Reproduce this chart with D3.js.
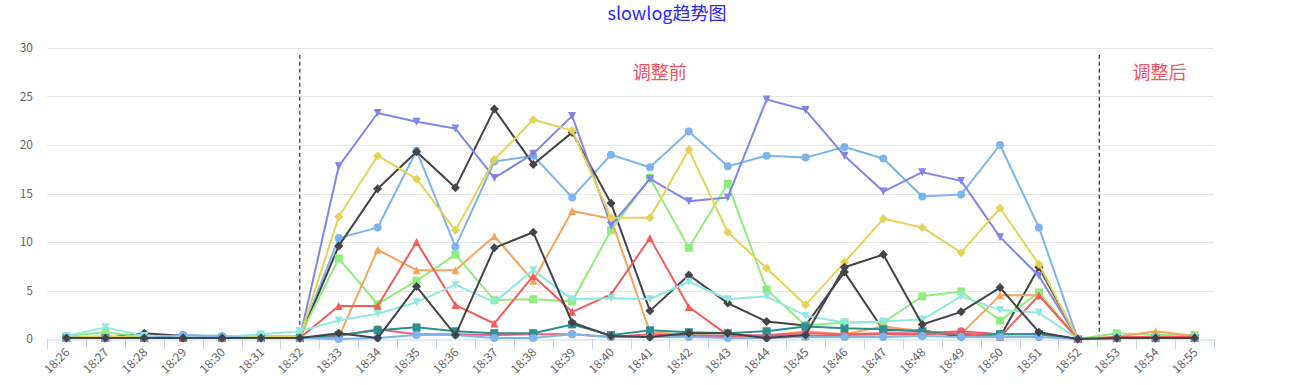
<!DOCTYPE html>
<html>
<head>
<meta charset="utf-8">
<script src="https://cdn.jsdelivr.net/npm/d3@7"></script>
<style>
  html, body { margin: 0; padding: 0; background: #fff; }
  svg { display: block; font-family: "Noto Sans CJK SC", "Noto Sans", sans-serif; }
</style>
</head>
<body>
<svg id="chart" width="1308" height="385"></svg>
<script>
// categories (minutes)
const categories = ["18:26","18:27","18:28","18:29","18:30","18:31","18:32","18:33","18:34","18:35",
  "18:36","18:37","18:38","18:39","18:40","18:41","18:42","18:43","18:44","18:45",
  "18:46","18:47","18:48","18:49","18:50","18:51","18:52","18:53","18:54","18:55"];

const yTicks = [0, 5, 10, 15, 20, 25, 30];

// series values, in drawing order
const s0 = [0.2,0.2,0.2,0.4,0.3,0.2,0.2, 10.4,11.5,19.4,9.5,18.3,18.9,14.6,19.0,17.7,21.4,17.8,18.9,18.7,19.8,18.6,14.7,14.9,20.0,11.5, 0, 0.1,0.1,0.1];
const s1 = [0.1,0.1,0.6,0.3,0.1,0.2,0.1, 9.6,15.5,19.3,15.6,23.7,18.0,21.3,14.0,2.9,6.6,3.7,1.8,1.4,6.9,0.9,0.9,0.2,0.2,7.4, 0, 0.1,0.1,0.1];
const s2 = [0.3,0.7,0.2,0.2,0.2,0.3,0.3, 8.3,3.6,6.0,8.7,4.0,4.1,3.9,11.2,16.6,9.4,16.0,5.1,1.4,1.7,1.7,4.4,4.9,1.9,4.8, 0, 0.6,0.4,0.4];
const s3 = [0.1,0.2,0.1,0.1,0.1,0.1,0.1, 0.2,9.2,7.1,7.1,10.6,6.0,13.2,12.4,0.7,0.4,0.3,0.3,0.8,0.5,1.3,0.8,0.5,4.5,4.5, 0, 0.2,0.8,0.3];
const s4 = [0.1,0.1,0.1,0.1,0.1,0.1,0.1, 17.8,23.3,22.4,21.7,16.6,19.1,23.0,11.7,16.5,14.2,14.6,24.7,23.6,18.9,15.2,17.2,16.3,10.5,6.5, 0, 0.1,0.1,0.1];
const s5 = [0.1,0.1,0.1,0.1,0.1,0.1,0.1, 0.3,1.0,0.5,0.5,0.4,0.5,0.5,0.2,0.5,0.3,0.3,0.4,0.6,0.5,0.6,0.6,0.8,0.5,0.5, 0, 0.1,0.1,0.1];
const s6 = [0.1,0.3,0.1,0.1,0.1,0.2,0.2, 12.6,18.9,16.5,11.2,18.5,22.6,21.5,12.5,12.5,19.5,11.0,7.3,3.5,7.9,12.4,11.5,8.9,13.5,7.7, 0, 0.1,0.1,0.1];
const s7 = [0.1,0.1,0.1,0.1,0.1,0.1,0.1, 0.4,0.9,1.2,0.8,0.6,0.6,1.5,0.4,0.9,0.7,0.6,0.8,1.3,1.1,1.0,0.8,0.4,0.5,0.5, 0, 0.1,0.1,0.1];
const s8 = [0.1,0.1,0.1,0.1,0.1,0.1,0.1, 3.4,3.4,10.0,3.5,1.6,6.5,2.8,4.6,10.4,3.3,0.4,0.3,0.3,0.4,0.5,0.5,0.6,0.2,4.5, 0, 0.2,0.2,0.2];
const s9 = [0.3,1.2,0.3,0.3,0.2,0.5,0.8, 1.9,2.6,3.8,5.6,3.8,7.1,4.1,4.2,4.1,5.9,4.1,4.4,2.4,1.7,1.8,2.0,4.4,3.0,2.7, 0, 0.1,0.1,0.1];
const s10 = [0.1,0.1,0.1,0.4,0.2,0.1,0.1, 0.0,0.1,0.4,0.4,0.1,0.1,0.5,0.2,0.2,0.2,0.1,0.1,0.2,0.2,0.2,0.3,0.2,0.2,0.2, 0, 0.1,0.1,0.1];
const s11 = [0.1,0.1,0.1,0.1,0.1,0.1,0.1, 0.6,0.1,5.4,0.4,9.4,11.0,1.7,0.3,0.2,0.6,0.6,0.1,0.4,7.4,8.7,1.5,2.8,5.3,0.7, 0, 0.1,0.1,0.1];

const seriesList = [s0, s1, s2, s3, s4, s5, s6, s7, s8, s9, s10, s11];

// dashed separators (category index) and their notes
const splitAt = [6, 26.55];
const notes = [{ text: "调整前", at: 15.25 }, { text: "调整后", at: 28.1 }];

const colors = ["#7cb5ec","#434348","#90ed7d","#f7a35c","#8085e9","#f15c80","#e4d354","#2b908f","#f45b5b","#91e8e1"];
const symbols = ["circle","diamond","square","triangle","triangle-down"];

const margin = { top: 48, right: 94, bottom: 46, left: 47 };
const W = 1308, H = 385;
const width = W - margin.left - margin.right;
const height = H - margin.top - margin.bottom;

const svg = d3.select("#chart");

// title
svg.append("text")
  .attr("x", 667).attr("y", 20)
  .attr("text-anchor", "middle")
  .attr("fill", "#2a2aff")
  .style("font-size", "18px")
  .text("slowlog趋势图");

const g = svg.append("g")
  .attr("transform", "translate(" + margin.left + "," + margin.top + ")");

const x = d3.scaleBand().domain(categories).range([0, width]);
const xi = (i) => x.bandwidth() * (i + 0.5);
const y = d3.scaleLinear().domain([0, 30]).range([height, 0]);

// grid
g.append("g")
  .selectAll("line")
  .data(yTicks.filter((d) => d > 0))
  .enter()
  .append("line")
  .attr("x1", 0).attr("x2", width)
  .attr("y1", (d) => Math.round(y(d)) + 0.5)
  .attr("y2", (d) => Math.round(y(d)) + 0.5)
  .attr("stroke", "#e6e6e6");

// y labels
g.append("g")
  .selectAll("text")
  .data(yTicks)
  .enter()
  .append("text")
  .attr("x", -14)
  .attr("y", (d) => y(d) + 4)
  .attr("text-anchor", "end")
  .attr("fill", "#666")
  .style("font-size", "12px")
  .text((d) => d);

// x axis
const xAxis = g.append("g")
  .attr("transform", "translate(0," + (Math.round(height) + 0.5) + ")")
  .call(d3.axisBottom(x).tickSize(0).tickFormat(""));
xAxis.select(".domain").attr("stroke", "#ccd6eb");
xAxis.selectAll(".tick").remove();

const tickPos = d3.range(categories.length + 1).map((i) => i * x.bandwidth());
g.append("g")
  .selectAll("line")
  .data(tickPos)
  .enter()
  .append("line")
  .attr("x1", (d) => Math.round(d) + 0.5)
  .attr("x2", (d) => Math.round(d) + 0.5)
  .attr("y1", height).attr("y2", height + 10)
  .attr("stroke", "#ccd6eb");

g.append("g")
  .selectAll("text")
  .data(categories)
  .enter()
  .append("text")
  .attr("transform", (d, i) => "translate(" + (xi(i) + 4) + "," + (height + 14) + ")rotate(-45)")
  .attr("text-anchor", "end")
  .attr("fill", "#666")
  .style("font-size", "12px")
  .text((d) => d);

// dashed separators
g.append("g")
  .selectAll("line")
  .data(splitAt)
  .enter()
  .append("line")
  .attr("x1", (d) => xi(d)).attr("x2", (d) => xi(d))
  .attr("y1", y(29.3)).attr("y2", height)
  .attr("stroke", "#000")
  .attr("stroke-width", 1)
  .attr("stroke-dasharray", "4,3");

g.append("g")
  .selectAll("text")
  .data(notes)
  .enter()
  .append("text")
  .attr("x", (d) => xi(d.at))
  .attr("y", y(26.8))
  .attr("text-anchor", "middle")
  .attr("fill", "#f5525f")
  .style("font-size", "18px")
  .text((d) => d.text);

function markerPath(type) {
  const r = 4;
  if (type === "circle") return d3.symbol().type(d3.symbolCircle).size(Math.PI * r * r)();
  if (type === "square") return "M-4,-4L4,-4L4,4L-4,4Z";
  if (type === "diamond") return "M0,-4.5L4.5,0L0,4.5L-4.5,0Z";
  if (type === "triangle") return "M0,-4L4,4L-4,4Z";
  return "M-4,-4L4,-4L0,4Z";
}

const line = d3.line()
  .x((d, i) => xi(i))
  .y((d) => y(d));

seriesList.forEach(function (vals, si) {
  const color = colors[si % colors.length];
  const sym = symbols[si % symbols.length];
  const sg = g.append("g");
  sg.append("path")
    .datum(vals)
    .attr("fill", "none")
    .attr("stroke", color)
    .attr("stroke-width", 2)
    .attr("stroke-linejoin", "round")
    .attr("stroke-linecap", "round")
    .attr("d", line);
  sg.selectAll("path.pt")
    .data(vals)
    .enter()
    .append("path")
    .attr("class", "pt")
    .attr("transform", (d, i) => "translate(" + xi(i) + "," + y(d) + ")")
    .attr("d", markerPath(sym))
    .attr("fill", color);
});
</script>
</body>
</html>
